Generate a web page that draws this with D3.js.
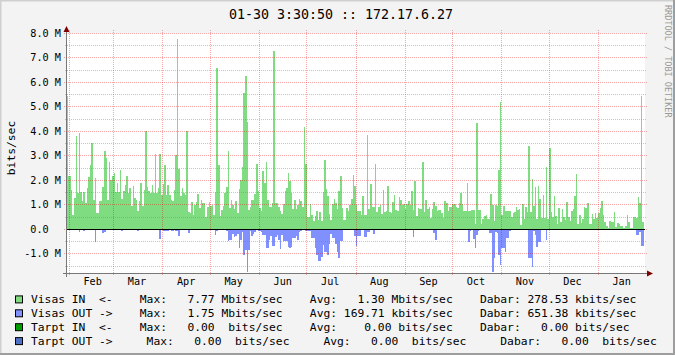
<!DOCTYPE html>
<html>
<head>
<meta charset="utf-8">
<title>01-30 3:30:50 :: 172.17.6.27</title>
<script src="https://d3js.org/d3.v7.min.js"></script>
<style>
  body { margin: 0; background: #f3f3f3; }
  svg text { font-family: "DejaVu Sans Mono", monospace; white-space: pre; }
</style>
</head>
<body>
<div id="chart"></div>
<script>
// daily averages, Mbit/s, starting 2009-01-30
const inMbps = [
  5.44, 2.16, 2.16, 1.6, 0.57, 1.27, 3.8, 1.46, 3.92, 1.52,
  1.14, 1.52, 1.05, 1.66, 2.12, 2.6, 3.5, 1.18, 2.07, 0.67,
  0.67, 1.14, 1.14, 1.71, 3.18, 2.9, 1.18, 2.75, 2.0, 2.18,
  2.28, 1.52, 1.88, 1.52, 2.41, 1.22, 1.55, 1.8, 2.16, 1.47,
  1.69, 0.94, 1.76, 1.27, 1.2, 0.75, 1.14, 1.88, 0.94, 1.6,
  4.0, 1.71, 1.55, 1.47, 1.8, 1.47, 3.06, 1.46, 1.67, 3.06,
  1.39, 1.84, 2.61, 1.39, 1.8, 1.39, 1.18, 1.16, 1.6, 3.02,
  7.77, 2.45, 1.33, 1.67, 1.47, 1.39, 4.0, 0.69, 0.65, 1.1,
  0.57, 0.98, 1.1, 1.43, 0.87, 1.18, 1.06, 1.06, 0.49, 0.9,
  1.1, 0.94, 0.98, 0.57, 1.51, 6.57, 2.61, 0.53, 0.78, 0.94,
  1.47, 1.71, 3.18, 0.86, 1.18, 0.98, 0.82, 1.14, 0.65, 1.63,
  2.0, 2.53, 5.55, 6.24, 4.37, 0.78, 0.9, 1.18, 1.18, 1.43,
  2.65, 1.55, 0.86, 0.75, 2.37, 1.88, 2.73, 1.18, 0.9, 0.9,
  1.06, 7.27, 1.06, 1.06, 0.9, 0.75, 0.61, 1.02, 1.55, 1.67,
  2.29, 1.96, 1.47, 0.82, 1.18, 0.82, 0.98, 1.22, 1.14, 0.9,
  4.16, 2.65, 0.49, 0.49, 1.02, 0.57, 0.33, 0.53, 0.73, 0.37,
  0.69, 0.33, 1.51, 2.82, 1.63, 1.35, 0.61, 0.37, 1.02, 1.22,
  1.07, 0.82, 1.55, 2.16, 0.86, 0.37, 0.37, 0.86, 0.73, 0.98,
  1.22, 2.2, 1.76, 0.98, 0.75, 0.73, 0.57, 1.35, 0.57, 0.57,
  3.84, 0.82, 1.84, 0.9, 0.9, 2.65, 0.69, 0.9, 0.98, 0.61,
  1.6, 0.69, 0.73, 1.76, 0.69, 0.67, 1.1, 1.39, 0.78, 0.75,
  1.31, 1.18, 0.98, 1.02, 0.82, 1.02, 1.14, 0.98, 1.55, 0.78,
  1.96, 0.53, 0.86, 0.82, 0.82, 2.73, 0.69, 1.18, 0.82, 0.9,
  0.44, 0.82, 1.1, 0.94, 0.73, 0.78, 0.78, 0.63, 0.44, 1.14,
  1.06, 0.73, 0.9, 0.9, 1.02, 1.02, 0.9, 0.86, 1.06, 1.47,
  1.02, 0.73, 0.73, 1.88, 0.75, 0.75, 0.78, 0.78, 0.2, 4.33,
  0.78, 0.78, 0.2, 0.41, 0.53, 0.57, 0.41, 0.41, 1.43, 0.98,
  0.33, 0.98, 0.94, 2.41, 5.18, 0.57, 0.94, 0.73, 0.73, 0.73,
  0.73, 0.5, 0.65, 0.69, 0.9, 0.78, 0.82, 0.16, 1.02, 0.41,
  0.9, 0.69, 3.39, 0.69, 2.04, 0.94, 1.71, 0.41, 1.76, 1.22,
  0.45, 1.39, 0.45, 2.53, 0.41, 3.31, 0.69, 0.5, 1.35, 0.53,
  0.2, 0.86, 0.29, 0.82, 0.49, 0.37, 1.1, 0.49, 0.33, 0.73,
  0.82, 1.35, 2.24, 0.2, 0.57, 0.24, 0.41, 0.9, 0.86, 1.06,
  0.2, 0.2, 0.61, 0.41, 0.65, 0.45, 0.65, 0.86, 1.14, 0.57,
  0.29, 0.12, 0.05, 0.33, 0.29, 0.29, 0.69, 0.08, 0.24, 0.2,
  0.12, 0.12, 0.04, 0.12, 0.57, 0.29, 0.04, 0.04, 0.49, 0.49,
  0.45, 1.31, 1.06, 5.43, 0.29
];

const outMbps = [
  0.05, 0.05, 0.06, 0.05, 0.05, 0.03, 0.06, 0.06, 0.14, 0.05,
  0.05, 0.08, 0.05, 0.05, 0.04, 0.05, 0.05, 0.06, 0.52, 0.05,
  0.05, 0.04, 0.05, 0.16, 0.14, 0.05, 0.05, 0.06, 0.05, 0.03,
  0.05, 0.05, 0.06, 0.05, 0.05, 0.08, 0.05, 0.05, 0.04, 0.05,
  0.05, 0.06, 0.05, 0.05, 0.05, 0.07, 0.05, 0.05, 0.04, 0.05,
  0.05, 0.03, 0.06, 0.06, 0.05, 0.06, 0.06, 0.05, 0.06, 0.4,
  0.06, 0.08, 0.08, 0.07, 0.08, 0.06, 0.08, 0.07, 0.06, 0.08,
  0.08, 0.27, 0.06, 0.06, 0.05, 0.06, 0.06, 0.16, 0.06, 0.06,
  0.05, 0.06, 0.06, 0.05, 0.06, 0.06, 0.05, 0.06, 0.06, 0.05,
  0.06, 0.06, 0.05, 0.06, 0.24, 0.08, 0.06, 0.06, 0.05, 0.06,
  0.06, 0.1, 0.49, 0.44, 0.44, 0.2, 0.33, 0.3, 0.2, 0.79,
  0.44, 0.14, 1.06, 0.87, 1.75, 0.87, 0.1, 0.27, 0.22, 0.14,
  0.06, 0.08, 0.1, 0.12, 0.24, 0.24, 0.79, 0.79, 0.45, 0.29,
  0.68, 0.68, 0.31, 0.24, 0.45, 0.82, 0.24, 0.49, 0.49, 0.49,
  0.72, 0.76, 0.74, 0.38, 0.38, 0.27, 0.45, 0.14, 0.08, 0.05,
  0.05, 0.1, 0.1, 0.08, 0.08, 0.38, 0.38, 0.79, 1.06, 1.33,
  1.33, 1.13, 0.65, 0.93, 0.93, 1.06, 0.63, 0.22, 0.38, 0.38,
  0.63, 0.93, 1.2, 0.49, 0.49, 0.06, 0.05, 0.04, 0.06, 0.05,
  0.06, 0.05, 0.27, 0.68, 0.3, 0.27, 0.05, 0.05, 0.33, 0.33,
  0.12, 0.14, 0.05, 0.05, 0.2, 0.05, 0.05, 0.05, 0.04, 0.05,
  0.05, 0.06, 0.05, 0.05, 0.04, 0.05, 0.05, 0.05, 0.06, 0.05,
  0.05, 0.05, 0.04, 0.05, 0.05, 0.05, 0.06, 0.05, 0.05, 0.33,
  0.06, 0.05, 0.05, 0.05, 0.04, 0.05, 0.05, 0.05, 0.05, 0.05,
  0.04, 0.05, 0.18, 0.45, 0.05, 0.05, 0.05, 0.05, 0.04, 0.05,
  0.05, 0.05, 0.05, 0.05, 0.05, 0.05, 0.05, 0.05, 0.05, 0.06,
  0.05, 0.05, 0.05, 0.05, 0.54, 0.1, 0.05, 0.41, 0.79, 0.24,
  0.1, 0.05, 0.05, 0.05, 0.05, 0.05, 0.05, 0.18, 0.18, 1.74,
  1.2, 0.14, 0.18, 1.06, 1.47, 0.76, 0.76, 0.93, 0.38, 0.38,
  0.08, 0.05, 0.05, 0.05, 0.05, 0.05, 0.05, 0.05, 0.05, 0.05,
  0.05, 0.05, 1.17, 1.17, 1.54, 0.1, 0.23, 0.72, 0.54, 0.54,
  0.05, 0.04, 0.04, 0.45, 0.03, 0.02, 0.02, 0.02, 0.02, 0,
  0, 0, 0, 0.02, 0, 0, 0, 0, 0, 0,
  0.03, 0.03, 0, 0, 0, 0, 0, 0, 0, 0,
  0.03, 0, 0, 0, 0, 0, 0, 0, 0, 0.02,
  0, 0, 0, 0, 0, 0, 0, 0.03, 0, 0,
  0, 0, 0, 0, 0, 0, 0, 0, 0.03, 0,
  0.24, 0.24, 0.14, 0.68, 0.68
];

const monthLabels = ["Feb", "Mar", "Apr", "May", "Jun", "Jul", "Aug", "Sep", "Oct", "Nov", "Dec", "Jan"];
const yMajorTicks = [-1, 0, 1, 2, 3, 4, 5, 6, 7, 8];
const yTickLabels = ["-1.0 M", "0.0  ", "1.0 M", "2.0 M", "3.0 M", "4.0 M", "5.0 M", "6.0 M", "7.0 M", "8.0 M"];
const yMinorTicks = [-1.5, -0.5, 0.5, 1.5, 2.5, 3.5, 4.5, 5.5, 6.5, 7.5];

const titleText = "01-30 3:30:50 :: 172.17.6.27";
const unitText = "bits/sec";
const watermark = "RRDTOOL / TOBI OETIKER";
const legendLines = [
  "Visas IN  <-    Max:   7.77 Mbits/sec    Avg:   1.30 Mbits/sec    Dabar: 278.53 kbits/sec",
  "Visas OUT ->    Max:   1.75 Mbits/sec    Avg: 169.71 kbits/sec    Dabar: 651.38 kbits/sec",
  "Tarpt IN  <-    Max:   0.00  bits/sec    Avg:    0.00 bits/sec    Dabar:   0.00 bits/sec",
  "Tarpt OUT ->     Max:   0.00  bits/sec     Avg:   0.00  bits/sec     Dabar:   0.00  bits/sec"
];
const legendColors = ["#80dc80", "#8090ff", "#00a000", "#5070c8"];

const width = 675, height = 355;
const plot = {left: 67, right: 645, top: 33, bottom: 273};

const start = new Date(Date.UTC(2009, 0, 30, 3, 30, 50));
const end = new Date(Date.UTC(2010, 0, 30, 3, 30, 50));
const dayMs = 86400000;

const x = d3.scaleUtc().domain([start, end]).range([plot.left - 1, plot.right - 1]);
const y = d3.scaleLinear().domain([-1.8, 8]).range([plot.bottom, plot.top]);

const svg = d3.select("#chart").append("svg")
  .attr("width", width)
  .attr("height", height)
  .attr("xml:space", "preserve");

// background with rrdtool style shade border
svg.append("rect").attr("width", width).attr("height", height).attr("fill", "#f3f3f3");
svg.append("path").attr("d", `M0.5,${height} V0.5 H${width}`).attr("stroke", "#cfcfcf").attr("stroke-width", 2).attr("fill", "none");
svg.append("path").attr("d", `M0,${height - 1} H${width - 1} V0`).attr("stroke", "#9e9e9e").attr("stroke-width", 2).attr("fill", "none");

svg.append("rect")
  .attr("x", plot.left).attr("y", plot.top)
  .attr("width", plot.right - plot.left).attr("height", plot.bottom - plot.top)
  .attr("fill", "#fff");

// series as step areas
const inPts = inMbps.map((v, i) => ({t: new Date(+start + i * dayMs), v}));
inPts.push({t: end, v: inMbps[inMbps.length - 1]});
const outPts = outMbps.map((v, i) => ({t: new Date(+start + i * dayMs), v: -v}));
outPts.push({t: end, v: -outMbps[outMbps.length - 1]});

const area = d3.area()
  .curve(d3.curveStepAfter)
  .x(d => x(d.t))
  .y0(y(0))
  .y1(d => y(d.v));

svg.append("path").datum(inPts).attr("d", area).attr("fill", legendColors[0]).attr("shape-rendering", "crispEdges");
svg.append("path").datum(outPts).attr("d", area).attr("fill", legendColors[1]).attr("shape-rendering", "crispEdges");

// grid
const px = v => Math.round(v) + 0.5;
const grid = svg.append("g").attr("fill", "none").attr("stroke-dasharray", "1,1");
grid.selectAll(".minor").data(yMinorTicks).enter().append("line")
  .attr("x1", plot.left - 2).attr("x2", plot.right + 2)
  .attr("y1", d => px(y(d))).attr("y2", d => px(y(d)))
  .attr("stroke", "rgba(128,128,128,0.45)");
grid.selectAll(".major").data(yMajorTicks).enter().append("line")
  .attr("x1", plot.left - 3).attr("x2", plot.right + 2)
  .attr("y1", d => px(y(d))).attr("y2", d => px(y(d)))
  .attr("stroke", "rgba(230,0,0,0.35)");

const monthTicks = d3.utcMonth.range(start, end);
grid.selectAll(".vmajor").data(monthTicks).enter().append("line")
  .attr("x1", d => px(x(d))).attr("x2", d => px(x(d)))
  .attr("y1", plot.top - 3).attr("y2", plot.bottom + 3)
  .attr("stroke", "rgba(230,0,0,0.35)");

// zero line
svg.append("line")
  .attr("x1", plot.left).attr("x2", plot.right)
  .attr("y1", px(y(0))).attr("y2", px(y(0)))
  .attr("stroke", "#000");

// axes
svg.append("line")
  .attr("x1", plot.left - 0.5).attr("x2", plot.left - 0.5)
  .attr("y1", plot.bottom + 4).attr("y2", plot.top - 4)
  .attr("stroke", "#777").attr("stroke-width", 1);
svg.append("line")
  .attr("x1", plot.left - 4).attr("x2", plot.right + 3)
  .attr("y1", plot.bottom + 0.5).attr("y2", plot.bottom + 0.5)
  .attr("stroke", "#777");
svg.append("path")
  .attr("d", `M${plot.left - 3.5},${plot.top - 1} L${plot.left + 2.5},${plot.top - 1} L${plot.left - 0.5},${plot.top - 7} Z`)
  .attr("fill", "#800000");
svg.append("path")
  .attr("d", `M${plot.right + 2},${plot.bottom - 2.5} L${plot.right + 2},${plot.bottom + 3.5} L${plot.right + 8},${plot.bottom + 0.5} Z`)
  .attr("fill", "#800000");

// y labels
svg.selectAll(".ylab").data(yMajorTicks).enter().append("text")
  .attr("x", 61).attr("y", d => y(d) + 3.8)
  .attr("text-anchor", "end")
  .attr("font-size", "10.2px")
  .text((d, i) => yTickLabels[i]);

// x labels at mid-month
svg.selectAll(".xlab").data(monthTicks).enter().append("text")
  .attr("x", d => x(d3.utcDay.offset(d, 15)))
  .attr("y", plot.bottom + 12)
  .attr("text-anchor", "middle")
  .attr("font-size", "10.2px")
  .text((d, i) => monthLabels[i]);

// title, unit, watermark
svg.append("text")
  .attr("x", 341).attr("y", 18.5)
  .attr("text-anchor", "middle")
  .attr("font-size", "13.3px")
  .text(titleText);

svg.append("text")
  .attr("transform", `translate(14.5,${(plot.top + plot.bottom) / 2 - 5}) rotate(-90)`)
  .attr("text-anchor", "middle")
  .attr("font-size", "11.3px")
  .text(unitText);

svg.append("text")
  .attr("transform", "translate(665,5) rotate(90)")
  .attr("font-size", "8.5px")
  .attr("fill", "#999")
  .text(watermark);

// legend
const legend = svg.append("g");
legendLines.forEach((line, i) => {
  const yy = 303.4 + i * 13.9;
  legend.append("rect")
    .attr("x", 15.5).attr("y", yy - 7.5)
    .attr("width", 7).attr("height", 7)
    .attr("fill", legendColors[i])
    .attr("stroke", "#000");
  legend.append("text")
    .attr("x", 31).attr("y", yy)
    .attr("font-size", "11.3px")
    .text(line);
});
</script>
</body>
</html>
